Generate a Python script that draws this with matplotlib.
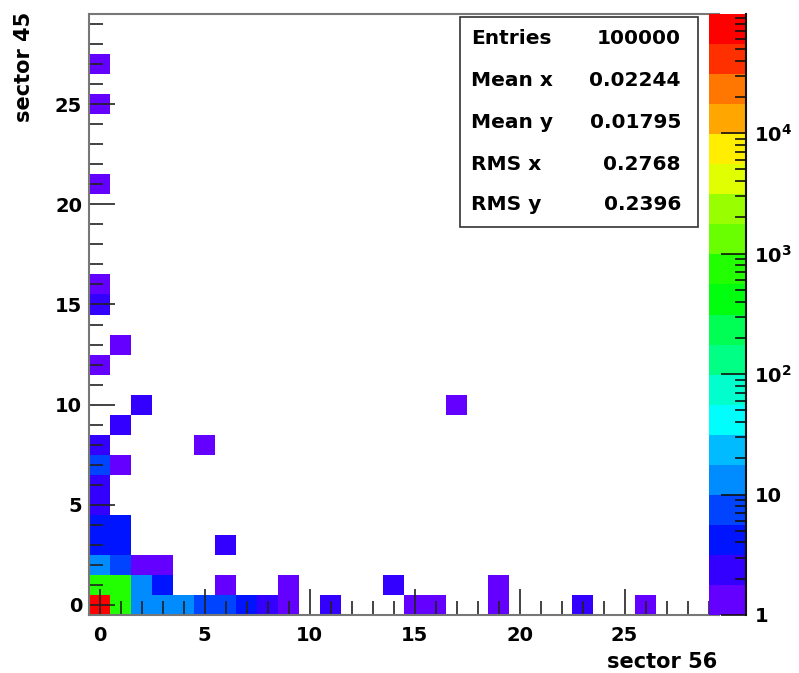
import colorsys
import numpy as np
import matplotlib
matplotlib.use("Agg")
import matplotlib.pyplot as plt
from matplotlib.colors import ListedColormap, BoundaryNorm
from matplotlib.patches import Rectangle
from matplotlib.ticker import FixedLocator, NullFormatter

plt.rcParams["font.family"] = ["DejaVu Sans"]
plt.rcParams["font.weight"] = "bold"

# occupied cells of the 30x30 histogram (bin centre x, bin centre y, entries)
cell_x = [0, 1, 2, 3, 4, 5, 6, 7, 8, 9, 11, 15, 16, 19, 23, 26,
          0, 1, 2, 3, 6, 9, 14, 19,
          0, 1, 2, 3,
          0, 1, 6,
          0, 1,
          0, 0, 0, 1, 0, 5, 1, 2, 17,
          0, 1, 0, 0, 0, 0, 0]
cell_y = [0, 0, 0, 0, 0, 0, 0, 0, 0, 0, 0, 0, 0, 0, 0, 0,
          1, 1, 1, 1, 1, 1, 1, 1,
          2, 2, 2, 2,
          3, 3, 3,
          4, 4,
          5, 6, 7, 7, 8, 8, 9, 10, 10,
          12, 13, 15, 16, 21, 25, 27]
cell_counts = [97520, 955, 14, 13, 12, 8, 7, 4, 3, 1, 3, 1, 1, 1, 3, 1,
               662, 700, 12, 4, 1, 1, 2, 1,
               12, 7, 1, 1,
               5, 4, 2,
               4, 5,
               2, 2, 8, 1, 2, 1, 2, 2, 1,
               1, 1, 2, 1, 1, 1, 1]

stat_names = ["Entries", "Mean x", "Mean y", "RMS x", "RMS y"]
stat_values = ["100000", "0.02244", "0.01795", "0.2768", "0.2396"]

NBINS = 30
NLEVELS = 20

# rainbow palette violet -> red (50 hues, 20 contour levels picked from it)
pretty = [colorsys.hls_to_rgb((280 - (i + 1) * 280 / 50) / 360, 0.5, 1.0) for i in range(50)]
level_colors = [pretty[int((i + 0.99) * 50 / NLEVELS)] for i in range(NLEVELS)]
cmap = ListedColormap(level_colors)
cmap.set_over(level_colors[-1])

grid = np.zeros((NBINS, NBINS))
for x, y, n in zip(cell_x, cell_y, cell_counts):
    grid[y, x] = n
zmax = max(cell_counts)
levels = np.logspace(0, np.log10(zmax), NLEVELS + 1)
norm = BoundaryNorm(levels, NLEVELS)

W, H = 799, 673


def box(x0, y0, x1, y1):
    return [x0 / W, 1 - y1 / H, (x1 - x0) / W, (y1 - y0) / H]


fig = plt.figure(figsize=(W / 100, H / 100), dpi=100)
ax = fig.add_axes(box(89, 14, 719, 615))

edges = np.arange(NBINS + 1) - 0.5
ax.pcolormesh(edges, edges, np.ma.masked_equal(grid, 0), cmap=cmap, norm=norm)
ax.set_xlim(-0.5, NBINS - 0.5)
ax.set_ylim(-0.5, NBINS - 0.5)

ax.set_xticks(range(0, NBINS, 5))
ax.set_yticks(range(0, NBINS, 5))
ax.set_xticks(range(NBINS), minor=True)
ax.set_yticks(range(NBINS), minor=True)
ax.tick_params(which="both", direction="in", color="#222222", width=1.2,
               top=False, right=False, labelsize=14)
ax.tick_params(which="major", length=19)
ax.tick_params(which="minor", length=10)
ax.tick_params(axis="x", pad=8)
ax.tick_params(axis="y", pad=5)
for s in ax.spines.values():
    s.set_color("#777777")
    s.set_linewidth(1.5)

# palette on the right, log scale
cax = fig.add_axes(box(709, 14, 746, 615))
cax.pcolormesh([0, 1], levels, np.arange(NLEVELS).reshape(-1, 1),
               cmap=cmap, vmin=-0.5, vmax=NLEVELS - 0.5)
cax.set_yscale("log")
cax.set_ylim(levels[0], levels[-1])
cax.set_xlim(0, 1)
cax.set_xticks([])
decades = [1, 10, 100, 1000, 10000]
cax.yaxis.set_major_locator(FixedLocator(decades))
cax.set_yticklabels(["1", "10", r"$\mathbf{10^{2}}$", r"$\mathbf{10^{3}}$", r"$\mathbf{10^{4}}$"])
minors = [m * d for d in decades for m in range(2, 10) if m * d < zmax]
cax.yaxis.set_minor_locator(FixedLocator(minors))
cax.yaxis.set_minor_formatter(NullFormatter())
cax.yaxis.tick_right()
cax.tick_params(which="both", direction="in", color="#111111", width=1.2, labelsize=14, pad=6)
cax.tick_params(which="major", length=18)
cax.tick_params(which="minor", length=8)
for side, s in cax.spines.items():
    s.set_visible(side == "right")
cax.spines["right"].set_color("#111111")
cax.spines["right"].set_linewidth(1.5)

# statistics box
fig.add_artist(Rectangle((460 / W, 1 - 227 / H), (698 - 460) / W, (227 - 17) / H,
                         transform=fig.transFigure, facecolor="white",
                         edgecolor="#333333", lw=1.2))
row_y = [39, 81, 122, 164, 205]
for yy, name, val in zip(row_y, stat_names, stat_values):
    fig.text(471 / W, 1 - yy / H, name, ha="left", va="center", fontsize=14.5)
    fig.text(681 / W, 1 - yy / H, val, ha="right", va="center", fontsize=14.5)

fig.text(717 / W, 1 - 662 / H, "sector 56", ha="right", va="center", fontsize=15)
fig.text(24 / W, 1 - 12 / H, "sector 45", ha="center", va="top", rotation=90, fontsize=15)

fig.savefig("out.png", dpi=100, facecolor="white")
